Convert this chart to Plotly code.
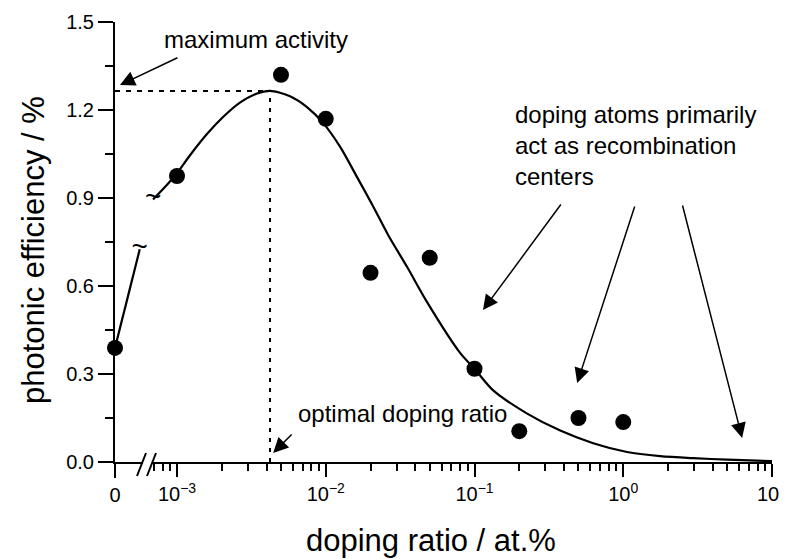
import math
import plotly.graph_objects as go

# ---------------- data ----------------
ZERO_DOT_X = [0.0]
ZERO_DOT_Y = [0.389]

DOT_X = [1e-3, 5e-3, 1e-2, 2e-2, 5e-2, 1e-1, 2e-1, 5e-1, 1.0]
DOT_Y = [0.975, 1.32, 1.170, 0.645, 0.696, 0.318, 0.105, 0.150, 0.136]

# fitted curve, part left of the axis break (linear "0" region)
ZERO_CURVE_X = [0.0, 0.0003]
ZERO_CURVE_Y = [0.389, 0.725]

# fitted curve, log region
CURVE_X = [6.90e-4, 8.57e-4, 1.0e-3, 1.22e-3, 1.59e-3, 2.04e-3, 2.65e-3, 3.45e-3,
           4.22e-3, 5.75e-3, 7.48e-3, 9.59e-3, 1.25e-2, 1.62e-2, 2.08e-2, 2.62e-2,
           3.55e-2, 4.80e-2, 8.0e-2, 0.1, 0.133, 0.226, 0.377, 0.628, 1.06, 1.77,
           2.95, 5.0, 10.0]
CURVE_Y = [0.895, 0.945, 0.985, 1.045, 1.118, 1.176, 1.225, 1.256,
           1.265, 1.247, 1.210, 1.156, 1.074, 0.972, 0.872, 0.775,
           0.662, 0.545, 0.372, 0.318, 0.245, 0.165, 0.107, 0.064, 0.034, 0.020,
           0.013, 0.008, 0.003]

PEAK_X = 4.22e-3
PEAK_Y = 1.265

X_TICK_VALS = [1e-3, 1e-2, 1e-1, 1e0, 1e1]
X_TICK_TEXT = ["10<sup>−3</sup>", "10<sup>−2</sup>", "10<sup>−1</sup>",
               "10<sup>0</sup>", "10<sup>1</sup>"]
X_MINOR_VALS = [m * 10.0 ** e for e in range(-4, 1) for m in range(2, 10)]

# ---------------- layout constants ----------------
# the page body has an 8px margin, so the figure is drawn 8px in from the window corner
BODY = 8
WIN_W, WIN_H = 788, 559
W, H = WIN_W - BODY, WIN_H - BODY
PLOT_L, PLOT_R, PLOT_T, PLOT_B = 115, 772, 22, 462          # window pixels
ML, MT = PLOT_L - BODY, PLOT_T - BODY
MR, MB = (BODY + W) - PLOT_R, (BODY + H) - PLOT_B
PW = PLOT_R - PLOT_L
PH = PLOT_B - PLOT_T
D1 = 33 / PW                 # end of the linear "0" part of the x axis
X1_RANGE = [0.0, 0.0004]
X2_RANGE = [-3.195, 1.0]


def px(xw):
    return (xw - PLOT_L) / PW


def py(yw):
    return (PLOT_B - yw) / PH


FONT = "Liberation Sans, Arial, Helvetica, sans-serif"
BLACK = "black"

fig = go.Figure()

# dotted guide lines
fig.add_trace(go.Scatter(x=[X1_RANGE[0], X1_RANGE[1]], y=[PEAK_Y, PEAK_Y], xaxis="x", yaxis="y",
                         mode="lines", line=dict(color=BLACK, width=2, dash="5px,6px"),
                         hoverinfo="skip", showlegend=False))
fig.add_trace(go.Scatter(x=[10 ** X2_RANGE[0], PEAK_X], y=[PEAK_Y, PEAK_Y], xaxis="x2", yaxis="y",
                         mode="lines", line=dict(color=BLACK, width=2, dash="5px,6px"),
                         hoverinfo="skip", showlegend=False))
fig.add_trace(go.Scatter(x=[PEAK_X, PEAK_X], y=[0, PEAK_Y], xaxis="x2", yaxis="y",
                         mode="lines", line=dict(color=BLACK, width=2, dash="4px,6px"),
                         hoverinfo="skip", showlegend=False))

# fitted curve
fig.add_trace(go.Scatter(x=ZERO_CURVE_X, y=ZERO_CURVE_Y, xaxis="x", yaxis="y",
                         mode="lines", line=dict(color=BLACK, width=2.2),
                         showlegend=False))
fig.add_trace(go.Scatter(x=CURVE_X, y=CURVE_Y, xaxis="x2", yaxis="y",
                         mode="lines", line=dict(color=BLACK, width=2.2, shape="spline", smoothing=0.8),
                         showlegend=False))

# break squiggles on the curve
fig.add_trace(go.Scatter(x=[ZERO_CURVE_X[-1]], y=[ZERO_CURVE_Y[-1]], xaxis="x", yaxis="y",
                         mode="text", text=["~"], textposition="middle center",
                         textfont=dict(family=FONT, size=28, color=BLACK),
                         cliponaxis=False, hoverinfo="skip", showlegend=False))
fig.add_trace(go.Scatter(x=[CURVE_X[0]], y=[CURVE_Y[0]], xaxis="x2", yaxis="y",
                         mode="text", text=["~"], textposition="middle center",
                         textfont=dict(family=FONT, size=28, color=BLACK),
                         cliponaxis=False, hoverinfo="skip", showlegend=False))

# measured points
fig.add_trace(go.Scatter(x=ZERO_DOT_X, y=ZERO_DOT_Y, xaxis="x", yaxis="y",
                         mode="markers", marker=dict(color=BLACK, size=16),
                         cliponaxis=False, showlegend=False))
fig.add_trace(go.Scatter(x=DOT_X, y=DOT_Y, xaxis="x2", yaxis="y",
                         mode="markers", marker=dict(color=BLACK, size=16),
                         cliponaxis=False, showlegend=False))

tickfont = dict(family=FONT, size=20, color=BLACK)

fig.update_layout(
    template="none",
    width=W, height=H, autosize=False,
    margin=dict(l=ML, r=MR, t=MT, b=MB, pad=0, autoexpand=False),
    paper_bgcolor="white", plot_bgcolor="white",
    showlegend=False,
    xaxis=dict(domain=[0, D1], range=X1_RANGE, anchor="y", automargin=False,
               tickmode="array", tickvals=[0], ticktext=["0"],
               ticks="outside", ticklen=14, tickwidth=2, tickcolor=BLACK,
               showline=True, linewidth=2, linecolor=BLACK,
               showgrid=False, zeroline=False, tickfont=tickfont, fixedrange=True),
    xaxis2=dict(domain=[D1, 1], type="log", range=X2_RANGE, anchor="y", automargin=False,
                tickmode="array", tickvals=X_TICK_VALS, ticktext=X_TICK_TEXT,
                ticklabeloverflow="allow",
                ticks="outside", ticklen=13, tickwidth=2, tickcolor=BLACK,
                minor=dict(tickmode="array", tickvals=X_MINOR_VALS, ticks="outside",
                           ticklen=7, tickwidth=2, tickcolor=BLACK, showgrid=False),
                showline=True, linewidth=2, linecolor=BLACK,
                showgrid=False, zeroline=False, tickfont=tickfont, fixedrange=True),
    yaxis=dict(domain=[0, 1], range=[0, 1.5], anchor="x", automargin=False,
               tick0=0, dtick=0.3, tickformat=".1f",
               ticks="outside", ticklen=15, tickwidth=2, tickcolor=BLACK,
               minor=dict(tick0=0, dtick=0.15, ticks="outside", ticklen=8,
                          tickwidth=2, tickcolor=BLACK, showgrid=False),
               showline=True, linewidth=2, linecolor=BLACK,
               showgrid=False, zeroline=False, tickfont=tickfont, fixedrange=True),
)

# axis break marks (paper refs so they are not clipped by the plot area)
fig.add_shape(type="rect", xref="paper", yref="paper", xsizemode="pixel", ysizemode="pixel",
              xanchor=D1, yanchor=0, x0=-5, x1=4, y0=-2.5, y1=2.5,
              fillcolor="white", line=dict(width=0), layer="above")
for dx in (-11, -1):
    fig.add_shape(type="line", xref="paper", yref="paper", xsizemode="pixel", ysizemode="pixel",
                  xanchor=D1, yanchor=0, x0=dx, x1=dx + 9, y0=-14, y1=9,
                  line=dict(color=BLACK, width=2), layer="above")

# arrows
arrow_style = dict(showarrow=True, text="", arrowhead=2, arrowsize=2.0, arrowwidth=1.5,
                   arrowcolor=BLACK, standoff=0)
fig.add_annotation(xref="x", yref="y", x=0.00006, y=1.285, ax=59, ay=-28, **arrow_style)
fig.add_annotation(xref="x2", yref="y", x=math.log10(4.43e-3), y=0.031, ax=20, ay=-20, **arrow_style)
fig.add_annotation(xref="x2", yref="y", x=math.log10(0.114), y=0.518, ax=79, ay=-107, **arrow_style)
fig.add_annotation(xref="x2", yref="y", x=math.log10(0.49), y=0.269, ax=58, ay=-178, **arrow_style)
fig.add_annotation(xref="x2", yref="y", x=math.log10(6.3), y=0.082, ax=-60, ay=-234, **arrow_style)

# texts
note_font = dict(family=FONT, size=24, color=BLACK)
fig.add_annotation(xref="paper", yref="paper", x=px(256), y=py(39),
                   text="maximum activity", showarrow=False, font=note_font,
                   xanchor="center", yanchor="middle")
fig.add_annotation(xref="paper", yref="paper", x=px(402), y=py(413),
                   text="optimal doping ratio", showarrow=False, font=note_font,
                   xanchor="center", yanchor="middle")
fig.add_annotation(xref="paper", yref="paper", x=px(513), y=py(145),
                   text="doping atoms primarily<br>act as recombination<br>centers",
                   showarrow=False, font=note_font, align="left",
                   xanchor="left", yanchor="middle")

# axis titles
title_font = dict(family=FONT, size=31, color=BLACK)
fig.add_annotation(xref="paper", yref="paper", x=px(431), y=py(540),
                   text="doping ratio / at.%", showarrow=False, font=title_font,
                   xanchor="center", yanchor="middle")
fig.add_annotation(xref="paper", yref="paper", x=px(33), y=py(250),
                   text="photonic efficiency / %", showarrow=False, font=title_font,
                   textangle=-90, xanchor="center", yanchor="middle")

fig.write_html("out.html")
